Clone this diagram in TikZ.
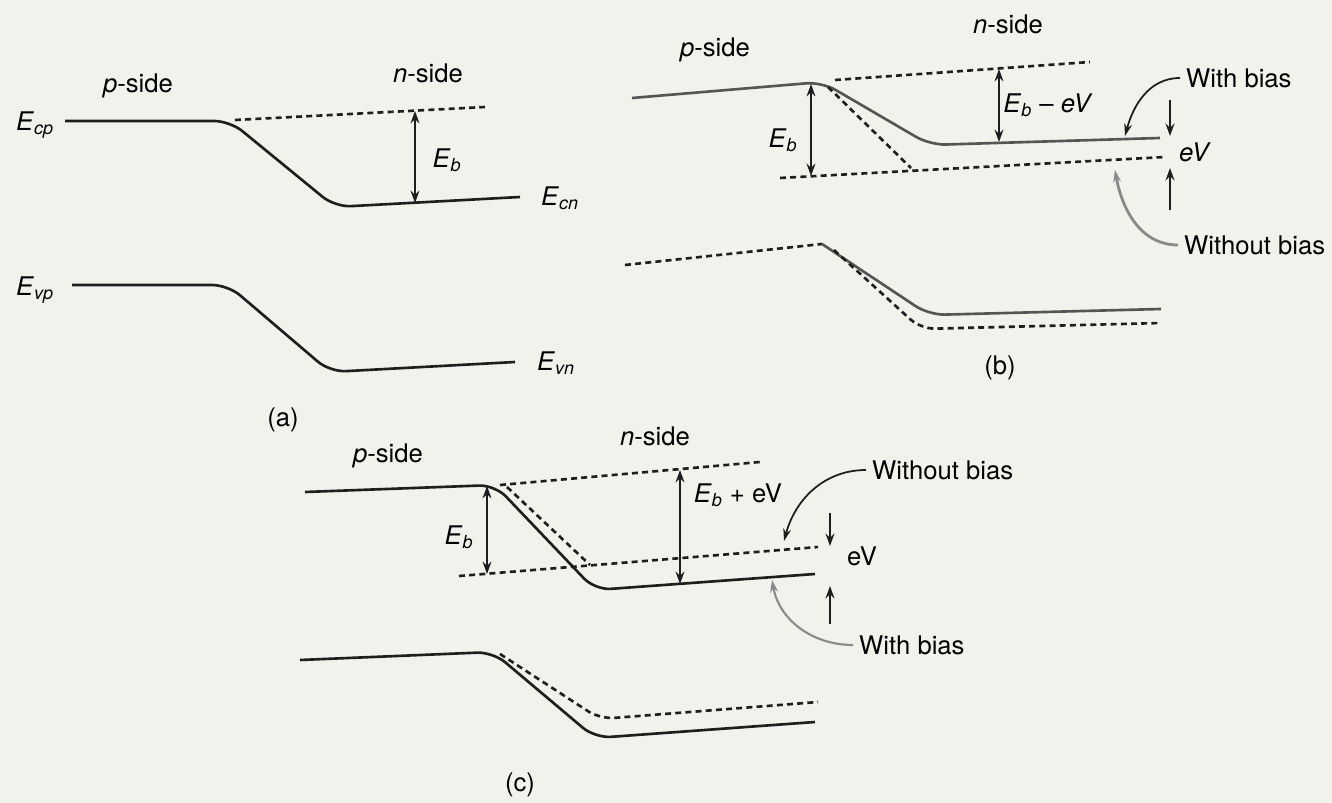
\documentclass[tikz,border=0pt]{standalone}
\usepackage{fontspec}
\setmainfont{TeX Gyre Heros}
\usetikzlibrary{arrows.meta,positioning}
\definecolor{bandblack}{HTML}{1E1E1E}
\definecolor{bandgray}{HTML}{555555}
\definecolor{pointgray}{HTML}{8A8A8A}
\definecolor{pagetone}{HTML}{F2F1EC}
\newcommand{\bandE}[1]{\textit{E}\textsubscript{\textit{#1}}}

\begin{document}
\begin{tikzpicture}[x=0.02cm,y=-0.02cm,
    font=\fontsize{14.6}{17}\selectfont,
    bandedge/.style={bandblack,line width=1.5pt,rounded corners=9pt},
    oldlevel/.style={bandblack,line width=1.5pt,dash pattern=on 3.4pt off 2.4pt,rounded corners=8pt},
    gap/.style={bandblack,line width=1.1pt,{Stealth[length=7pt,width=5pt]}-{Stealth[length=7pt,width=5pt]}},
    pointer/.style={bandblack,line width=1pt,-{Stealth[length=7pt,width=4.5pt]}},
    shiftarrow/.style={bandblack,line width=1.3pt,-{Stealth[length=7pt,width=5pt]}}]
  \fill[pagetone] (0,0) rectangle (1332,803);
  \useasboundingbox (0,0) rectangle (1332,803);

  % (a) no bias
  \node (aps) at (138,86) {\textit{p}-side};
  \node (ans) at (428,73) {\textit{n}-side};
  \node (ecp) at (35,125) {\bandE{cp}};
  \node (ecn) at (560,198) {\bandE{cn}};
  \node (evp) at (35,290) {\bandE{vp}};
  \node (evn) at (556,363) {\bandE{vn}};
  \draw[bandedge] (65,121) -- (230,121) -- (335,207) -- (520,197);
  \draw[oldlevel] (235,120) -- (485,107);
  \draw[bandedge] (72,285) -- (228,285) -- (330,372) -- (515,362);
  \coordinate (atop) at (415,111);
  \coordinate (abot) at (415,203);
  \draw[gap] (atop) -- (abot);
  \node (aeb) at (447,160) {\bandE{b}};
  \node (alab) at (283,420) {(a)};

  % (b) forward bias
  \node (bps) at (715,50) {\textit{p}-side};
  \node (bns) at (1008,24) {\textit{n}-side};
  \draw[bandedge,bandgray] (632,98) -- (822,82) -- (930,145) -- (1160,138);
  \draw[oldlevel] (835,80) -- (1090,62);
  \draw[oldlevel] (780,178) -- (1165,157);
  \draw[oldlevel] (828,87) -- (911,168);
  \coordinate (btop) at (811,84);
  \coordinate (bbot) at (811,176);
  \draw[gap] (btop) -- (bbot);
  \node (beb) at (783,140) {\bandE{b}};
  \coordinate (btop2) at (999,69);
  \coordinate (bbot2) at (999,142);
  \draw[gap] (btop2) -- (bbot2);
  \node (bebv) at (1048,105) {\bandE{b} -- \textit{eV}};
  \node[anchor=west] (bwith) at (1180,78) {With bias};
  \coordinate (bhit) at (1125,136);
  \draw[pointer] (bwith.west) to[out=180,in=75] (bhit);
  \node[anchor=west] (bwithout) at (1178,245) {Without bias};
  \coordinate (bhit2) at (1115,170);
  \draw[pointer,pointgray,line width=1.6pt] (bwithout.west) to[out=180,in=-80] (bhit2);
  \coordinate (bd1) at (1170,100);
  \coordinate (bd2) at (1170,136);
  \draw[shiftarrow] (bd1) -- (bd2);
  \coordinate (bu1) at (1170,210);
  \coordinate (bu2) at (1170,168);
  \draw[shiftarrow] (bu1) -- (bu2);
  \node (bev) at (1195,152) {\textit{eV}};
  \draw[oldlevel] (625,265) -- (822,244);
  \draw[bandedge,bandgray] (822,244) -- (929,315) -- (1161,309);
  \draw[oldlevel] (834,250) -- (921,329) -- (1161,323);
  \node (blab) at (1000,368) {(b)};

  % (c) reverse bias
  \node (cps) at (388,456) {\textit{p}-side};
  \node (cns) at (655,436) {\textit{n}-side};
  \draw[bandedge] (305,492) -- (495,485) -- (595,590) -- (815,574);
  \draw[oldlevel] (500,485) -- (760,462);
  \draw[oldlevel] (459,576) -- (818,547);
  \draw[oldlevel] (507,487) -- (590,565);
  \coordinate (ctop) at (487,486);
  \coordinate (cbot) at (487,574);
  \draw[gap] (ctop) -- (cbot);
  \node (ceb) at (459,537) {\bandE{b}};
  \coordinate (ctop2) at (680,470);
  \coordinate (cbot2) at (680,584);
  \draw[gap] (ctop2) -- (cbot2);
  \node (cebv) at (738,495) {\bandE{b} + eV};
  \node[anchor=west] (cwithout) at (866,470) {Without bias};
  \coordinate (chit) at (784,541);
  \draw[pointer] (cwithout.west) to[out=180,in=75] (chit);
  \node[anchor=west] (cwith) at (853,645) {With bias};
  \coordinate (chit2) at (772,580);
  \draw[pointer,pointgray,line width=1.2pt] (cwith.west) to[out=180,in=-80] (chit2);
  \coordinate (cd1) at (830,513);
  \coordinate (cd2) at (830,546);
  \draw[shiftarrow] (cd1) -- (cd2);
  \coordinate (cu1) at (830,624);
  \coordinate (cu2) at (830,586);
  \draw[shiftarrow] (cu1) -- (cu2);
  \node (cev) at (862,556) {eV};
  \draw[bandedge] (300,660) -- (493,652) -- (595,738) -- (815,722);
  \draw[oldlevel] (500,654) -- (600,719) -- (818,702);
  \node (clab) at (520,785) {(c)};
\end{tikzpicture}
\end{document}
